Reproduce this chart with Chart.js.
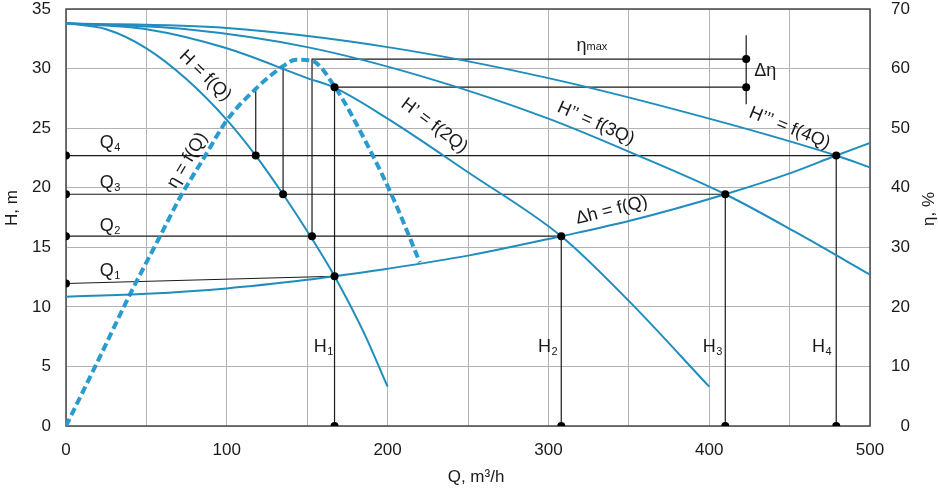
<!DOCTYPE html>
<html>
<head>
<meta charset="utf-8">
<script src="https://cdn.jsdelivr.net/npm/chart.js@4"></script>
<style>
  html, body { margin: 0; padding: 0; background: #fff; }
  #wrap { width: 938px; height: 488px; }
</style>
</head>
<body>
<div id="wrap"><canvas id="PumpChart"></canvas></div>
<script>
// pump curves H = f(Q), f(2Q), f(3Q), f(4Q)  (Q in m3/h, H in m)
var pumpQ  = [0, 25, 50, 75, 100, 118, 135, 152, 167, 185, 200];
var pumpH  = [33.8, 33.3, 31.7, 29.1, 25.7, 22.7, 19.45, 15.93, 12.57, 7.9, 3.3];
var pump2Q = [0, 50, 100, 150, 167, 200, 250, 308, 350, 400];
var pump2H = [33.8, 33.3, 31.7, 29.2, 28.4, 25.8, 21.3, 15.93, 10.5, 3.3];
var pump3Q = [0, 75, 150, 225, 300, 354, 410, 456, 500];
var pump3H = [33.8, 33.3, 31.8, 29.2, 25.8, 22.8, 19.45, 16.1, 12.7];
var pump4Q = [0, 100, 200, 300, 400, 479, 500];
var pump4H = [33.8, 33.4, 31.8, 29.2, 25.8, 22.7, 21.7];

// system curve dh = f(Q)
var systemQ = [0, 50, 100, 150, 167, 200, 250, 308, 350, 410, 450, 479, 500];
var systemH = [10.85, 11.1, 11.55, 12.27, 12.57, 13.2, 14.3, 15.93, 17.2, 19.45, 21.2, 22.7, 23.75];

// efficiency eta = f(Q), right axis in %
var effQ   = [0, 20, 40, 58, 71, 86, 100, 118, 135, 143, 153, 167, 187, 204, 220];
var effEta = [0, 11, 22.2, 31.6, 38.4, 45.1, 51.3, 56.6, 60.4, 61.5, 61.3, 57, 47.4, 37.9, 27.5];

// black construction lines, [Q, H] pairs
var guideLines = [
  [[0, 22.7], [479, 22.7]],
  [[0, 19.45], [410, 19.45]],
  [[0, 15.93], [308, 15.93]],
  [[0, 11.96], [167, 12.57]],
  [[118, 22.7], [118, 28.3]],
  [[135, 19.45], [135, 30.25]],
  [[153, 15.93], [153, 30.8], [423, 30.8]],
  [[167, 0], [167, 28.44], [423, 28.44]],
  [[423, 32.8], [423, 27.0]],
  [[308, 0], [308, 15.93]],
  [[410, 0], [410, 19.45]],
  [[479, 0], [479, 22.7]]
];

// dots
var markQ = [0, 118, 479, 0, 135, 410, 0, 153, 308, 0, 167, 167, 308, 410, 479, 167, 423, 423];
var markH = [22.7, 22.7, 22.7, 19.45, 19.45, 19.45, 15.93, 15.93, 15.93, 11.96, 12.57, 0, 0, 0, 0, 28.44, 30.8, 28.44];

var qTicks = [0, 100, 200, 300, 400, 500];

var fontFamily = '"Liberation Sans", Arial, sans-serif';
var blue = "#1f8dbd";

function toPoints(xs, ys) {
    return xs.map(function (x, i) { return { x: x, y: ys[i] }; });
}

function curve(xs, ys) {
    return {
        data: toPoints(xs, ys),
        showLine: true,
        borderColor: blue,
        borderWidth: 2,
        pointRadius: 0,
        cubicInterpolationMode: "monotone",
        yAxisID: "y"
    };
}

var datasets = [];
datasets.push({
    data: toPoints(markQ, markH),
    pointRadius: 4,
    pointBackgroundColor: "#000",
    pointBorderWidth: 0,
    showLine: false,
    yAxisID: "y"
});
datasets.push(curve(pumpQ, pumpH));
datasets.push(curve(pump2Q, pump2H));
datasets.push(curve(pump3Q, pump3H));
datasets.push(curve(pump4Q, pump4H));
datasets.push(curve(systemQ, systemH));
datasets.push({
    data: toPoints(effQ, effEta),
    showLine: true,
    borderColor: "#2a9bd0",
    borderWidth: 4,
    borderDash: [8, 4],
    pointRadius: 0,
    cubicInterpolationMode: "monotone",
    yAxisID: "y1"
});
guideLines.forEach(function (seg) {
    datasets.push({
        data: seg.map(function (p) { return { x: p[0], y: p[1] }; }),
        showLine: true,
        borderColor: "#1a1a1a",
        borderWidth: 1.2,
        pointRadius: 0,
        yAxisID: "y"
    });
});

// labels placed in data space (Q, H)
var curveLabels = [
    { t: "H = f(Q)",      q: 86.6,  h: 29.4, rot: 44 },
    { t: "\u03B7 = f(Q)", q: 75.5,  h: 22.3, rot: -59 },
    { t: "H\u2019 = f(2Q)", q: 229, h: 25.2, rot: 37 },
    { t: "H\u2019\u2019 = f(3Q)", q: 329.5, h: 25.4, rot: 24 },
    { t: "H\u2019\u2019\u2019 = f(4Q)", q: 450, h: 25.0, rot: 22 },
    { t: "\u0394h = f(Q)", q: 339.4, h: 18.1, rot: -14 }
];
var subLabels = [
    { t: "Q", s: "4", q: 21, h: 23.3 },
    { t: "Q", s: "3", q: 21, h: 20.0 },
    { t: "Q", s: "2", q: 21, h: 16.4 },
    { t: "Q", s: "1", q: 21, h: 12.6 },
    { t: "H", s: "1", q: 154, h: 6.2 },
    { t: "H", s: "2", q: 293.5, h: 6.2 },
    { t: "H", s: "3", q: 396, h: 6.2 },
    { t: "H", s: "4", q: 464, h: 6.2 }
];

function noPad(s) {
    s.paddingTop = 0;
    s.paddingBottom = 0;
    s.paddingLeft = 0;
    s.paddingRight = 0;
}

var annotationPlugin = {
    id: "annotations",
    beforeDatasetsDraw: function (chart) {
        var a = chart.chartArea, ctx = chart.ctx;
        ctx.save();
        ctx.strokeStyle = "#4a4a4a";
        ctx.lineWidth = 1.5;
        ctx.strokeRect(a.left, a.top, a.right - a.left, a.bottom - a.top);
        ctx.restore();
    },
    afterDraw: function (chart) {
        var ctx = chart.ctx, xs = chart.scales.x, ys = chart.scales.y;
        ctx.save();
        ctx.fillStyle = "#1a1a1a";
        ctx.textBaseline = "middle";
        ctx.textAlign = "center";
        ctx.font = "18px " + fontFamily;
        curveLabels.forEach(function (l) {
            ctx.save();
            ctx.translate(xs.getPixelForValue(l.q), ys.getPixelForValue(l.h));
            ctx.rotate(l.rot * Math.PI / 180);
            ctx.fillText(l.t, 0, 0);
            ctx.restore();
        });

        ctx.textBaseline = "alphabetic";
        ctx.textAlign = "left";
        subLabels.forEach(function (l) {
            var x = xs.getPixelForValue(l.q), y = ys.getPixelForValue(l.h);
            ctx.font = "18px " + fontFamily;
            ctx.fillText(l.t, x, y);
            var w = ctx.measureText(l.t).width;
            ctx.font = "11px " + fontFamily;
            ctx.fillText(l.s, x + w + 0.5, y + 3);
        });

        // eta max and delta eta
        var ex = xs.getPixelForValue(317.5), ey = ys.getPixelForValue(31.5);
        ctx.font = "18px " + fontFamily;
        ctx.fillText("\u03B7", ex, ey);
        var ew = ctx.measureText("\u03B7").width;
        ctx.font = "11px " + fontFamily;
        ctx.fillText("max", ex + ew, ey - 1);
        ctx.font = "18px " + fontFamily;
        ctx.textBaseline = "middle";
        ctx.fillText("\u0394\u03B7", xs.getPixelForValue(428), ys.getPixelForValue(29.8));

        // axis titles
        ctx.font = "17px " + fontFamily;
        ctx.textAlign = "center";
        ctx.fillText("Q, m\u00B3/h", 476, 477);
        ctx.save();
        ctx.translate(12, 208);
        ctx.rotate(-Math.PI / 2);
        ctx.fillText("H, m", 0, 0);
        ctx.restore();
        ctx.save();
        ctx.translate(929, 209);
        ctx.rotate(-Math.PI / 2);
        ctx.fillText("\u03B7, %", 0, 0);
        ctx.restore();
        ctx.restore();
    }
};

new Chart("PumpChart", {
    type: "scatter",
    data: { datasets: datasets },
    options: {
        responsive: true,
        maintainAspectRatio: false,
        animation: false,
        events: [],
        layout: { autoPadding: false, padding: { top: 9, left: 0, right: 28, bottom: 0 } },
        plugins: { legend: { display: false }, tooltip: { enabled: false } },
        scales: {
            x: {
                type: "linear",
                min: 0,
                max: 500,
                afterFit: function (s) { s.height = 62; noPad(s); },
                border: { display: false },
                grid: { color: "#b3b3b3", lineWidth: 1, drawTicks: false },
                ticks: {
                    stepSize: 50,
                    padding: 14,
                    color: "#1a1a1a",
                    font: { family: fontFamily, size: 17 },
                    maxRotation: 0,
                    autoSkip: false,
                    callback: function (v) { return qTicks.indexOf(v) >= 0 ? v : ""; }
                }
            },
            y: {
                type: "linear",
                position: "left",
                min: 0,
                max: 35,
                afterFit: function (s) { s.width = 66; noPad(s); },
                border: { display: false },
                grid: { color: "#b3b3b3", lineWidth: 1, drawTicks: false },
                ticks: {
                    stepSize: 5,
                    padding: 15,
                    color: "#1a1a1a",
                    font: { family: fontFamily, size: 17 }
                }
            },
            y1: {
                type: "linear",
                position: "right",
                min: 0,
                max: 70,
                afterFit: function (s) { s.width = 40; noPad(s); },
                border: { display: false },
                grid: { drawOnChartArea: false, drawTicks: false },
                ticks: {
                    stepSize: 10,
                    padding: 20,
                    crossAlign: "far",
                    color: "#1a1a1a",
                    font: { family: fontFamily, size: 17 }
                }
            }
        }
    },
    plugins: [annotationPlugin]
});
</script>
</body>
</html>
